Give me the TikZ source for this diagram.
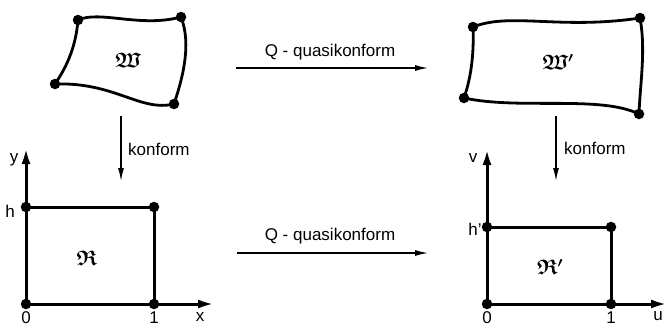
\documentclass[tikz,border=0pt]{standalone}
\usepackage{amsmath,amssymb}
\usepackage{fontspec}
\setmainfont{Liberation Sans}
\usetikzlibrary{arrows.meta}
\begin{document}
\begin{tikzpicture}[x=1pt,y=-1pt,
  dot/.style={circle,fill=black,inner sep=0pt,minimum size=10.5pt},
  edge/.style={line width=2.8pt},
  rectedge/.style={line width=3pt},
  maparrow/.style={line width=1.3pt,-{Latex[length=13pt,width=6pt]}},
  axis/.style={line width=3pt,-{Latex[length=16pt,width=9pt]}},
  lbl/.style={font=\fontsize{17}{20}\selectfont,inner sep=0pt},
  frak/.style={font=\fontsize{21}{24}\selectfont,inner sep=0pt}]
\useasboundingbox (0,0) rectangle (667,327);
% ---------- W ----------
\node[dot] (wtl) at (78,20) {};
\node[dot] (wtr) at (181,17) {};
\node[dot] (wbr) at (174,104) {};
\node[dot] (wbl) at (55,84) {};
\draw[edge] (wtl.center) .. controls (100,10) and (140,28) .. (wtr.center);
\draw[edge] (wtr.center) .. controls (192,45) and (182,80) .. (wbr.center);
\draw[edge] (wbr.center) .. controls (140,112) and (115,82) .. (wbl.center);
\draw[edge] (wbl.center) .. controls (68,65) and (76,45) .. (wtl.center);
\node[frak] (W) at (128,60) {$\boldsymbol{\mathfrak{W}}$};
% ---------- W' ----------
\node[dot] (vtl) at (473,27) {};
\node[dot] (vtr) at (640,18) {};
\node[dot] (vbr) at (639,114) {};
\node[dot] (vbl) at (464,98) {};
\draw[edge] (vtl.center) .. controls (510,12) and (560,30) .. (vtr.center);
\draw[edge] (vtr.center) .. controls (646,50) and (640,85) .. (vbr.center);
\draw[edge] (vbr.center) .. controls (600,95) and (520,110) .. (vbl.center);
\draw[edge] (vbl.center) .. controls (472,75) and (474,50) .. (vtl.center);
\node[frak] (Wp) at (558,62) {$\boldsymbol{\mathfrak{W}'}$};
% ---------- top map ----------
\coordinate (ta) at (236,68);
\coordinate (tb) at (428,68);
\draw[maparrow] (ta) -- (tb);
\node[lbl] (tq) at (330,52) {Q - quasikonform};
% ---------- vertical maps ----------
\coordinate (la) at (121,116);
\coordinate (lb) at (121,181);
\draw[maparrow] (la) -- (lb);
\node[lbl,anchor=west] (lk) at (128,149) {konform};
\coordinate (ra) at (556,116);
\coordinate (rb) at (556,181);
\draw[maparrow] (ra) -- (rb);
\node[lbl,anchor=west] (rk) at (564,148) {konform};
% ---------- R ----------
\node[dot] (r00) at (26,304) {};
\node[dot] (r10) at (154,304) {};
\node[dot] (r11) at (154,207) {};
\node[dot] (r01) at (26,207) {};
\coordinate (yend) at (26,148);
\coordinate (xend) at (214,304);
\draw[axis] (r00.center) -- (yend);
\draw[axis] (r00.center) -- (xend);
\draw[rectedge] (r01.center) -- (r11.center) -- (r10.center);
\node[frak] (R) at (87,258) {$\boldsymbol{\mathfrak{R}}$};
\node[lbl] (ly) at (14,160) {y};
\node[lbl] (lh) at (10,211) {h};
\node[lbl] (l0) at (26,318) {0};
\node[lbl] (l1) at (154,318) {1};
\node[lbl] (lx) at (200,317) {x};
% ---------- bottom map ----------
\coordinate (ba) at (237,253);
\coordinate (bb) at (428,253);
\draw[maparrow] (ba) -- (bb);
\node[lbl] (bq) at (330,236) {Q - quasikonform};
% ---------- R' ----------
\node[dot] (s00) at (487,304) {};
\node[dot] (s10) at (611,304) {};
\node[dot] (s11) at (611,227) {};
\node[dot] (s01) at (487,227) {};
\coordinate (vend) at (487,149);
\coordinate (uend) at (667,304);
\draw[axis] (s00.center) -- (vend);
\draw[axis] (s00.center) -- (uend);
\draw[rectedge] (s01.center) -- (s11.center) -- (s10.center);
\node[frak] (Rp) at (550,267) {$\boldsymbol{\mathfrak{R}'}$};
\node[lbl] (lv) at (473,158) {v};
\node[lbl] (lhp) at (475,229) {h'};
\node[lbl] (m0) at (487,318) {0};
\node[lbl] (m1) at (611,318) {1};
\node[lbl] (lu) at (658,316) {u};
\end{tikzpicture}
\end{document}
